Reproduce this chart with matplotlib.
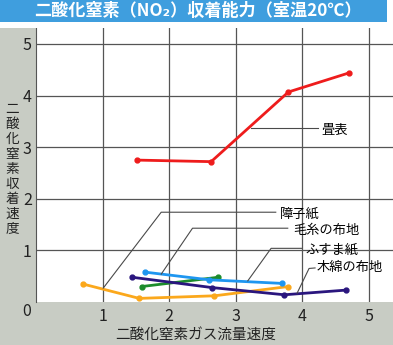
import matplotlib.pyplot as plt
from matplotlib.patches import Rectangle

plt.rcParams['font.family'] = ['Noto Sans CJK JP', 'DejaVu Sans']

# 各素材の収着速度（x: 流量速度, y: 収着速度）
tatami_x = [1.52, 2.63, 3.79, 4.70]
tatami_y = [2.75, 2.72, 4.07, 4.44]
shoji_x = [0.70, 1.55, 2.68, 3.79]
shoji_y = [0.35, 0.07, 0.12, 0.30]
wool_x = [1.59, 2.74]
wool_y = [0.30, 0.48]
fusuma_x = [1.63, 2.60, 3.70]
fusuma_y = [0.58, 0.43, 0.36]
cotton_x = [1.44, 2.64, 3.73, 4.65]
cotton_y = [0.48, 0.28, 0.14, 0.23]

ticks = [1, 2, 3, 4, 5]
title = '二酸化窒素（NO₂）収着能力（室温20℃）'
xlabel = '二酸化窒素ガス流量速度'
ylabel = '二酸化窒素収着速度'

W, H = 393, 345
fig = plt.figure(figsize=(W / 100, H / 100), dpi=100)
fig.patch.set_facecolor('#c8ccc4')

# 上部の白地とタイトル帯
fig.patches.append(Rectangle((0, 1 - 28 / H), 1, 28 / H, transform=fig.transFigure,
                             facecolor='white', edgecolor='none', zorder=0))
fig.patches.append(Rectangle((0, 1 - 22 / H), 387 / W, 22 / H, transform=fig.transFigure,
                             facecolor='#3f9ede', edgecolor='none', zorder=1))
fig.text(198 / W, 1 - 11.5 / H, title, color='white', fontsize=12.3, fontweight='bold',
         ha='center', va='center')

ax = fig.add_axes([36 / W, (H - 302) / H, (W - 36) / W, (302 - 28) / H])
ax.set_facecolor('white')
ax.set_xlim(0, 357 / 66.6)
ax.set_ylim(0, 274 / 51.6)
for s in ax.spines.values():
    s.set_visible(False)
ax.spines['left'].set_visible(True)
ax.spines['left'].set_color('#555555')

ax.set_xticks(ticks)
ax.set_yticks(ticks)
ax.grid(True, color='#555555', linewidth=0.9)
ax.tick_params(length=0, labelsize=11.5, colors='#222222')
ax.tick_params(axis='x', pad=4)
ax.tick_params(axis='y', pad=3)
ax.text(-0.14, -0.19, '0', fontsize=11.5, color='#222222', ha='center', va='center',
        clip_on=False)

fig.text(196 / W, 1 - 335 / H, xlabel, fontsize=10.5, color='#222222',
         ha='center', va='center')
fig.text(12 / W, 1 - 169 / H, '\n'.join(ylabel), fontsize=9.8, color='#222222',
         ha='center', va='center', linespacing=1.08)

# 系列
mk = dict(marker='o', markersize=3.5, linewidth=2)
ax.plot(shoji_x, shoji_y, color='#fba81c', **mk)
ax.plot(wool_x, wool_y, color='#1c8c2c', **mk)
ax.plot(fusuma_x, fusuma_y, color='#1e96f0', **mk)
ax.plot(cotton_x, cotton_y, color='#2a167e', **mk)
ax.plot(tatami_x, tatami_y, color='#ee1c1c', **mk)

# 引き出し線とラベル
lead = dict(color='#4a4a4a', linewidth=0.8)
ax.plot([3.23, 4.23], [3.37, 3.37], **lead)
ax.text(4.28, 3.33, '畳表', fontsize=9.5, va='center')
ax.plot([1.01, 1.88, 3.60], [0.27, 1.74, 1.74], **lead)
ax.text(3.66, 1.71, '障子紙', fontsize=9.5, va='center')
ax.plot([1.88, 2.35, 3.78], [0.54, 1.43, 1.43], **lead)
ax.text(3.86, 1.38, '毛糸の布地', fontsize=9.5, va='center')
ax.plot([3.18, 3.53, 3.99], [0.41, 1.04, 1.04], **lead)
ax.text(4.05, 1.01, 'ふすま紙', fontsize=9.5, va='center')
ax.plot([3.92, 4.10, 4.19], [0.17, 0.65, 0.66], **lead)
ax.text(4.22, 0.66, '木綿の布地', fontsize=9.5, va='center')

fig.savefig('out.png', dpi=100, facecolor=fig.get_facecolor())
